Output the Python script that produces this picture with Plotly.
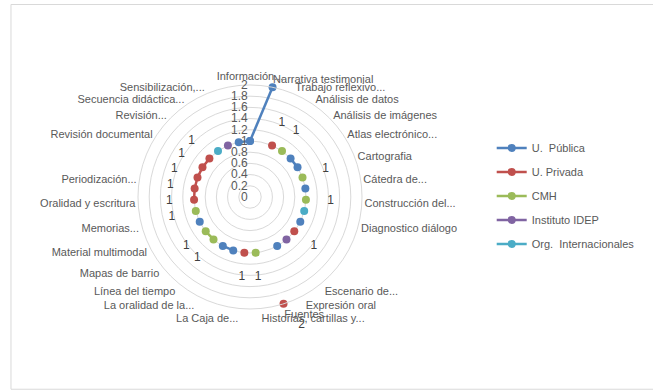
import plotly.graph_objects as go

ZW = "\u200b"
categories = [
    "Información...", "Narrativa testimonial", "Trabajo reflexivo...",
    "Análisis de datos", "Análisis de imágenes", "Atlas electrónico...",
    "Cartografia", "Cátedra de...", "Construcción del...", "Diagnostico diálogo",
    ZW * 1, ZW * 2,
    "Escenario de...", "Expresión oral", "Fuentes", "Historias, cartillas y...",
    "La Caja de...", ZW * 3, "La oralidad de la...",
    "Línea del tiempo", "Mapas de barrio", "Material multimodal", "Memorias...",
    "Oralidad y escritura", "Periodización...", ZW * 4,
    "Revisión documental", "Revisión...", "Secuencia didáctica...",
    "Sensibilización,...", ZW * 5,
]

N = None
u_publica = [1, 2, N, N, 1, 1, N, 1, N, N, 1, N, N, 1, N, N, N, 1, 1, N, N, 1, N, N, N, N, N, N, N, N, 1]
u_privada = [N, N, 1, N, N, N, N, N, N, N, N, 1, N, N, 2, N, 1, N, N, N, N, N, N, 1, 1, 1, 1, 1, N, N, N]
cmh       = [N, N, N, 1, N, N, 1, N, 1, N, N, N, N, N, N, 1, N, N, N, 1, 1, N, 1, N, N, N, N, N, N, N, N]
idep      = [N, N, N, N, N, N, N, N, N, N, N, N, 1, N, N, N, N, N, N, N, N, N, N, N, N, N, N, N, N, 1, N]
org_int   = [N, N, N, N, N, N, N, N, N, 1, N, N, N, N, N, N, N, N, N, N, N, N, N, N, N, N, N, N, 1, N, N]

series = [
    ("U.  Pública", u_publica, "#4F81BD", False),
    ("U. Privada", u_privada, "#C0504D", True),
    ("CMH", cmh, "#9BBB59", True),
    ("Instituto IDEP", idep, "#8064A2", False),
    ("Org.  Internacionales", org_int, "#4BACC6", False),
]

R_MAX = 2
LABEL_OFFSET = 0.44
theta_closed = categories + [categories[0]]

fig = go.Figure()
for i, (name, vals, color, labeled) in enumerate(series):
    fig.add_trace(go.Scatterpolar(
        r=vals + [vals[0]], theta=theta_closed, name=name,
        mode="lines+markers", connectgaps=False,
        line=dict(color=color, width=2.5),
        marker=dict(color=color, size=8),
        legendgroup=f"g{i}",
    ))
for i, (name, vals, color, labeled) in enumerate(series):
    if not labeled:
        continue
    rr, pos, msz = [], [], []
    for v in vals:
        if v is None:
            rr.append(None); pos.append("middle center"); msz.append(0)
        elif v + LABEL_OFFSET <= R_MAX:
            rr.append(v + LABEL_OFFSET); pos.append("middle center"); msz.append(0)
        else:
            rr.append(v); pos.append("bottom right"); msz.append(22)
    fig.add_trace(go.Scatterpolar(
        r=rr, theta=categories, mode="markers+text",
        marker=dict(size=msz, color="rgba(0,0,0,0)"),
        text=[str(v) if v is not None else "" for v in vals],
        textposition=pos,
        textfont=dict(size=12, color="#404040", family="Liberation Sans"),
        showlegend=False, cliponaxis=False, hoverinfo="skip",
    ))

fig.update_layout(
    width=653, height=390,
    margin=dict(l=0, r=0, t=0, b=0),
    paper_bgcolor="white",
    font=dict(family="Liberation Sans", size=11, color="#595959"),
    polar=dict(
        domain=dict(x=[0.2113, 0.5544], y=[0.2077, 0.7821]),
        bgcolor="white",
        angularaxis=dict(
            type="category", categoryorder="array", categoryarray=categories,
            rotation=90, direction="clockwise",
            showgrid=False, showline=True, linecolor="#D9D9D9", linewidth=1,
            ticks="", tickfont=dict(size=11, color="#595959"),
        ),
        radialaxis=dict(
            range=[0, R_MAX], dtick=0.2, angle=90, side="counterclockwise",
            showline=False, ticks="", gridcolor="#D9D9D9", gridwidth=1,
            tickfont=dict(size=12, color="#595959"), tickangle=90,
        ),
    ),
    legend=dict(
        x=0.753, y=0.658, xanchor="left", yanchor="top",
        font=dict(size=11, color="#595959"),
        tracegroupgap=5, bgcolor="rgba(0,0,0,0)",
    ),
    shapes=[dict(type="rect", xref="paper", yref="paper",
                 x0=0.0168, x1=1.01, y0=0.002, y1=0.9885,
                 line=dict(color="#D9D9D9", width=1), layer="below")],
)

fig.write_html("out.html")
